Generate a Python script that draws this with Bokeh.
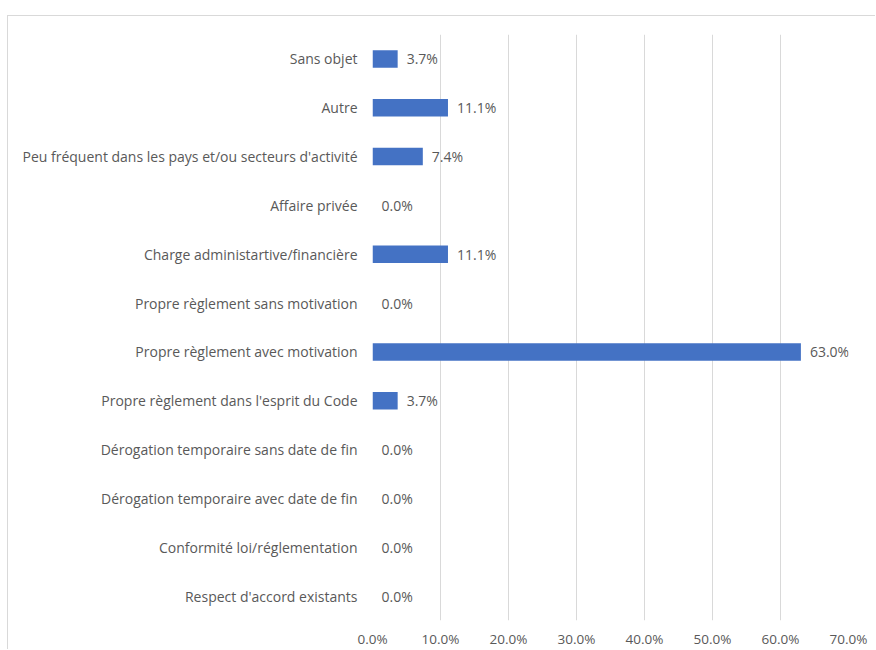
from bokeh.plotting import figure
from bokeh.models import FactorRange, FixedTicker, PrintfTickFormatter, ColumnDataSource
from bokeh.core.properties import value
from bokeh.embed import file_html
from bokeh.resources import INLINE

categories = [
    "Sans objet",
    "Autre",
    "Peu fréquent dans les pays et/ou secteurs d'activité",
    "Affaire privée",
    "Charge administartive/financière",
    "Propre règlement sans motivation",
    "Propre règlement avec motivation",
    "Propre règlement dans l'esprit du Code",
    "Dérogation temporaire sans date de fin",
    "Dérogation temporaire avec date de fin",
    "Conformité loi/réglementation",
    "Respect d'accord existants",
]
values = [3.7, 11.1, 7.4, 0.0, 11.1, 0.0, 63.0, 3.7, 0.0, 0.0, 0.0, 0.0]
x_ticks = [0, 10, 20, 30, 40, 50, 60, 70]

FONT = "Open Sans"
TEXT_COLOR = "#595959"
GRID = "#d9d9d9"
BAR = "#4472C4"

labels = ["%.1f%%" % v for v in values]
src = ColumnDataSource(dict(cat=categories, val=values, lab=labels))

p = figure(
    width=868, height=634,
    y_range=FactorRange(factors=list(reversed(categories))),
    x_range=(0, 70),
    output_backend="svg", toolbar_location=None,
    min_border_left=364, min_border_right=28, min_border_top=18, min_border_bottom=27,
)
p.margin = (15, 0, 0, 7)
p.styles = {"border-left": "1px solid #d9d9d9", "border-top": "1px solid #d9d9d9"}

p.hbar(y="cat", right="val", left=0, height=0.36, source=src, color=BAR, line_color=None)
p.text(x="val", y="cat", text="lab", source=src, x_offset=9, text_baseline="middle",
       text_align="left", text_font=value(FONT), text_font_size="14px", text_color=TEXT_COLOR)

p.outline_line_color = None
p.ygrid.grid_line_color = None
p.xgrid.grid_line_color = GRID
p.xgrid.grid_line_width = 1
p.xaxis.ticker = FixedTicker(ticks=x_ticks)
p.xaxis.formatter = PrintfTickFormatter(format="%.1f%%")
for ax in (p.xaxis[0], p.yaxis[0]):
    ax.axis_line_color = None
    ax.major_tick_line_color = None
    ax.minor_tick_line_color = None
    ax.major_tick_out = 0
    ax.major_tick_in = 0
    ax.minor_tick_out = 0
    ax.minor_tick_in = 0
    ax.major_label_text_font = FONT
    ax.major_label_text_color = TEXT_COLOR
p.xaxis.major_label_text_font_size = "13.5px"
p.yaxis.major_label_text_font_size = "14px"
p.xaxis.major_label_standoff = 9
p.yaxis.major_label_standoff = 15

open("out.html", "w").write(file_html(p, INLINE))
